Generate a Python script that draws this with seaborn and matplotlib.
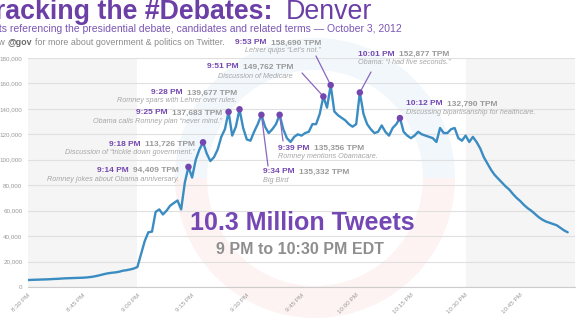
import matplotlib
matplotlib.use("Agg")
import matplotlib.pyplot as plt
import matplotlib.transforms as mtransforms
from matplotlib.patches import Wedge
from matplotlib.ticker import FuncFormatter
import seaborn as sns
import pandas as pd

# ---------------- data ----------------
# minutes after 8:30 PM EDT, one reading per minute
minutes = list(range(149))
tpm_k = [
    5.5, 5.6, 5.7, 5.8, 5.9, 6.0, 6.1, 6.3, 6.4, 6.6, 6.8, 6.9, 7.0, 7.1, 7.2, 7.3,
    7.5, 7.8, 8.2, 8.8, 9.5, 10.2, 10.8, 11.2, 11.5, 12.0, 12.8, 13.2, 13.8, 14.5, 15.7,
    26, 36, 43, 43.5, 59, 61, 57, 60, 64, 66, 68, 61, 82, 94.409,
    86, 100, 108, 113.726, 105, 99, 102, 108, 118, 124, 137.683, 119, 126, 139.677,
    125, 116, 115, 122, 128, 135.332,
    126, 121, 124, 128, 135.356,
    124, 117, 114, 118, 120, 119, 121, 122, 128, 128, 136, 149.762, 141, 158.690,
    138, 135, 133, 131, 128, 126, 128, 152.877,
    136, 128, 124, 121, 122, 127, 122, 119, 125, 128, 132.790,
    122, 119, 117, 119, 122, 120, 119, 118, 117, 114, 125, 121, 121, 124, 125, 117,
    115, 119, 114, 118, 114, 109, 102, 97, 92, 88, 85, 82, 79, 76.5, 73, 70, 67.5,
    64.5, 62, 60, 57.5, 55, 53, 51.5, 50.5, 49.5, 48.5, 46.5, 44.5, 43,
]
tick_minutes = [0, 15, 30, 45, 60, 75, 90, 105, 120, 135]
tick_labels = ["8:30 PM", "8:45 PM", "9:00 PM", "9:15 PM", "9:30 PM",
               "9:45 PM", "10:00 PM", "10:15 PM", "10:30 PM", "10:45 PM"]
y_ticks_k = [0, 20, 40, 60, 80, 100, 120, 140, 160, 180]

ann_minute = [44, 48, 55, 58, 64, 69, 81, 83, 91, 102]
ann_time = ["9:14 PM", "9:18 PM", "9:25 PM", "9:28 PM", "9:34 PM",
            "9:39 PM", "9:51 PM", "9:53 PM", "10:01 PM", "10:12 PM"]
ann_tpm = ["94,409 TPM", "113,726 TPM", "137,683 TPM", "139,677 TPM", "135,332 TPM",
           "135,356 TPM", "149,762 TPM", "158,690 TPM", "152,877 TPM", "132,790 TPM"]
ann_desc = ["Romney jokes about Obama anniversary.",
            "Discussion of \u201ctrickle down government.\u201d",
            "Obama calls Romney plan \u201cnever mind.\u201d",
            "Romney spars with Lehrer over rules.",
            "Big Bird",
            "Romney mentions Obamacare.",
            "Discussion of Medicare",
            "Lehrer quips \u201cLet\u2019s not.\u201d",
            "Obama: \u201cI had five seconds.\u201d",
            "Discussing bipartisanship for healthcare."]

# ---------------- layout (pixels from top-left) ----------------
W, H = 580, 326
label_layout = {
    "9:14 PM": (179, 170, 179, "right", None),
    "9:18 PM": (195, 144, 153, "right", None),
    "9:25 PM": (222, 113, 121, "right", None),
    "9:28 PM": (237, 93, 101, "right", None),
    "9:34 PM": (263, 172, 180, "left", (268, 166)),
    "9:39 PM": (278, 148, 157, "left", (283, 141)),
    "9:51 PM": (293, 67, 77, "right", (302, 73)),
    "9:53 PM": (321, 43, 51, "right", (316, 56)),
    "10:01 PM": (358, 54, 63, "left", (371, 72)),
    "10:12 PM": (406, 104, 113, "left", None),
}

PURPLE = "#7447b0"
TITLE_PURPLE = "#6b3fa6"
LINE_BLUE = "#3a8cc2"
GRAY = "#999999"
DESC_GRAY = "#a6a6a6"

sns.set_style("white")
plt.rcParams["font.family"] = ["Liberation Sans", "DejaVu Sans"]

fig = plt.figure(figsize=(W / 100, H / 100), dpi=100)
fig.patch.set_facecolor("white")

# faint watermark ring
ident = mtransforms.IdentityTransform()
fig.patches.append(Wedge((315, H - 178), 140, 0, 180, width=32, transform=ident,
                         facecolor="#f1f7fb", edgecolor="none", zorder=-2))
fig.patches.append(Wedge((315, H - 178), 140, 180, 360, width=32, transform=ident,
                         facecolor="#fdf3f2", edgecolor="none", zorder=-2))

ax = fig.add_axes([28 / W, 39 / H, 547 / W, 229 / H])
ax.patch.set_alpha(0)

df = pd.DataFrame({"minute": minutes, "tpm": [v * 1000 for v in tpm_k]})

ax.axvspan(0, 30, color="#f5f5f5", zorder=0.1, lw=0)
ax.axvspan(120, 150, color="#f5f5f5", zorder=0.1, lw=0)

sns.lineplot(data=df, x="minute", y="tpm", color=LINE_BLUE, lw=1.7, ax=ax, zorder=3)

ann_df = pd.DataFrame({"minute": ann_minute,
                       "tpm": [tpm_k[m] * 1000 for m in ann_minute]})
sns.scatterplot(data=ann_df, x="minute", y="tpm", color=PURPLE, s=22,
                edgecolor="none", ax=ax, zorder=5)

ax.set_xlim(0, 150)
ax.set_ylim(0, 180000)
ax.set_xticks(tick_minutes)
ax.set_xticklabels(tick_labels, rotation=45, ha="right", rotation_mode="anchor")
ax.set_yticks([v * 1000 for v in y_ticks_k])
ax.yaxis.set_major_formatter(FuncFormatter(lambda v, p: f"{int(v):,}"))
ax.tick_params(axis="y", labelsize=4.5, labelcolor=GRAY, length=0, pad=4)
ax.tick_params(axis="x", labelsize=4.5, labelcolor=GRAY, length=2, color="#dddddd", pad=2)
ax.set_xlabel("")
ax.set_ylabel("")
ax.grid(axis="y", color="#e0e0e0", lw=0.8)
ax.set_axisbelow(True)
for s in ["top", "right", "left"]:
    ax.spines[s].set_visible(False)
ax.spines["bottom"].set_color("#cccccc")
ax.spines["bottom"].set_linewidth(0.8)


def fx(x):
    return x / W


def fy(y):
    return 1 - y / H


# annotations
for m, t, v, d in zip(ann_minute, ann_time, ann_tpm, ann_desc):
    x, y1, y2, ha, lead = label_layout[t]
    if ha == "right":
        tv = fig.text(fx(x), fy(y1), v, ha="right", va="center", fontsize=6,
                      weight="bold", color=GRAY)
        ax.annotate(t, xy=(0, 0.5), xycoords=tv, xytext=(-3, 0),
                    textcoords="offset points", ha="right", va="center",
                    fontsize=6, weight="bold", color=PURPLE)
    else:
        tt = fig.text(fx(x), fy(y1), t, ha="left", va="center", fontsize=6,
                      weight="bold", color=PURPLE)
        ax.annotate(v, xy=(1, 0.5), xycoords=tt, xytext=(3, 0),
                    textcoords="offset points", ha="left", va="center",
                    fontsize=6, weight="bold", color=GRAY)
    fig.text(fx(x), fy(y2), d, ha=ha, va="center", fontsize=5.2,
             style="italic", color=DESC_GRAY)
    if lead is not None:
        ax.annotate("", xy=(m, tpm_k[m] * 1000), xycoords="data",
                    xytext=(lead[0], H - lead[1]), textcoords="figure pixels",
                    arrowprops=dict(arrowstyle="-", color="#8a66c0", lw=0.9,
                                    shrinkA=0, shrinkB=0), zorder=4)

# big centre text
fig.text(fx(302), fy(223), "10.3 Million Tweets", ha="center", va="center",
         fontsize=18, weight="bold", color="#7447b4")
fig.text(fx(300), fy(250), "9 PM to 10:30 PM EDT", ha="center", va="center",
         fontsize=11.5, weight="bold", color="#8e8e8e")

# header (cropped at the left edge as in the reference)
fig.text(fx(272), fy(19), "Tracking the #Debates:", ha="right", va="baseline",
         fontsize=19.3, weight="bold", color=TITLE_PURPLE)
fig.text(fx(286), fy(19), "Denver", ha="left", va="baseline",
         fontsize=19.3, color=TITLE_PURPLE)
fig.text(fx(402), fy(32), "Tweets referencing the presidential debate, candidates and "
         "related terms \u2014 October 3, 2012", ha="right", va="baseline",
         fontsize=7.45, color="#7a55b4")
fol = fig.text(fx(225), fy(45), "for more about government & politics on Twitter.",
               ha="right", va="baseline", fontsize=6.4, color="#8a8a8a")
g = ax.annotate("@gov", xy=(0, 0), xycoords=fol, xytext=(-2, 0),
                textcoords="offset points", ha="right", va="bottom",
                fontsize=6.4, weight="bold", color="#6a6a6a")
ax.annotate("Follow", xy=(0, 0), xycoords=g, xytext=(-2, 0),
            textcoords="offset points", ha="right", va="bottom",
            fontsize=6.4, color="#8a8a8a")

fig.savefig("out.png", dpi=100)
